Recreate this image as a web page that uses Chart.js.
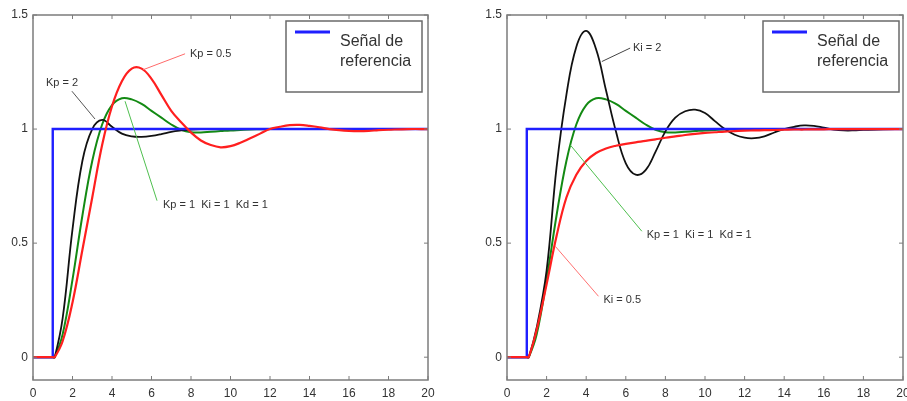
<!DOCTYPE html>
<html lang="es">
<head>
  <meta charset="UTF-8" />
  <title>Respuesta al escalón PID</title>
  <script src="https://cdn.jsdelivr.net/npm/chart.js"></script>
  <style>
    body {
      margin: 0;
      background: #fff;
    }

    #wrap {
      position: relative;
      width: 907px;
      height: 401px;
      overflow: hidden;
    }

    canvas {
      position: absolute;
      top: 0;
    }

    #leftChart { left: 0; }
    #rightChart { left: 453px; }
  </style>
</head>
<body>

<div id="wrap">
  <canvas id="leftChart" width="453" height="401"></canvas>
  <canvas id="rightChart" width="454" height="401"></canvas>
</div>

<script>
  // time samples shared by all the responses
  const tValues = [0, 0.5, 1, 1.1, 1.5, 2, 2.5, 3, 3.5, 4, 4.5, 5, 5.5, 6, 6.5, 7, 7.5, 8, 8.5, 9,
                   9.5, 10, 10.5, 11, 11.5, 12, 12.5, 13, 13.5, 14, 14.5, 15, 15.5, 16, 16.5, 17, 17.5, 18, 19, 20];

  // reference step
  const refT = [0, 1, 1, 20];
  const refY = [0, 0, 1, 1];

  // Kp = 1 Ki = 1 Kd = 1 (both plots)
  const pid111 = [0, 0, 0, 0, 0.1, 0.34, 0.62, 0.86, 1.02, 1.105, 1.135, 1.13, 1.11, 1.08, 1.05, 1.02, 0.997, 0.986, 0.985, 0.988,
                  0.991, 0.994, 0.996, 0.998, 0.999, 1, 1, 1, 1, 1, 1, 1, 1, 1, 1, 1, 1, 1, 1, 1];

  // left plot
  const kp05 = [0, 0, 0, 0, 0.07, 0.24, 0.47, 0.70, 0.93, 1.10, 1.21, 1.265, 1.265, 1.22, 1.15, 1.08, 1.03, 0.985, 0.95, 0.93,
                0.92, 0.925, 0.94, 0.96, 0.98, 1.0, 1.01, 1.017, 1.018, 1.014, 1.008, 1.0, 0.995, 0.992, 0.991, 0.992, 0.995, 0.997, 1.0, 1.0];
  const kp2 = [0, 0, 0, 0, 0.17, 0.56, 0.86, 1.0, 1.04, 1.01, 0.98, 0.968, 0.966, 0.97, 0.978, 0.988, 0.994, 0.998, 1.0, 1,
               1, 1, 1, 1, 1, 1, 1, 1, 1, 1, 1, 1, 1, 1, 1, 1, 1, 1, 1, 1];

  // right plot
  const ki2 = [0, 0, 0, 0, 0.13, 0.38, 0.83, 1.15, 1.36, 1.43, 1.35, 1.17, 0.99, 0.85, 0.80, 0.82, 0.90, 0.99, 1.05, 1.078,
               1.085, 1.07, 1.035, 1.0, 0.975, 0.962, 0.96, 0.968, 0.985, 1.0, 1.01, 1.016, 1.014, 1.006, 0.998, 0.994, 0.994, 0.996, 0.999, 1.0];
  const ki05 = [0, 0, 0, 0, 0.12, 0.32, 0.53, 0.70, 0.80, 0.86, 0.895, 0.915, 0.927, 0.935, 0.942, 0.948, 0.955, 0.962, 0.968, 0.974,
                0.979, 0.983, 0.986, 0.989, 0.991, 0.993, 0.994, 0.995, 0.996, 0.997, 0.998, 0.998, 0.999, 0.999, 1, 1, 1, 1, 1, 1];

  const xTicks = [0, 2, 4, 6, 8, 10, 12, 14, 16, 18, 20];
  const yTicks = [0, 0.5, 1, 1.5];
  const yTickLabels = ["0", "0.5", "1", "1.5"];
  const legendLines = ["Señal de", "referencia"];

  const BLUE = "#1f1fff";
  const RED = "#ff1f1f";
  const GREEN = "#138a13";
  const BLACK = "#111";

  // labels with pointer lines, in data units
  const leftNotes = [
    { text: "Kp = 0.5", x: 7.95, y: 1.33, from: [7.7, 1.33], to: [5.57, 1.26], color: "#ff6a6a" },
    { text: "Kp = 2", x: 0.66, y: 1.2, from: [1.97, 1.166], to: [3.14, 1.044], color: "#555" },
    { text: "Kp = 1  Ki = 1  Kd = 1", x: 6.58, y: 0.668, from: [6.28, 0.686], to: [4.66, 1.122], color: "#4fbf4f" }
  ];
  const rightNotes = [
    { text: "Ki = 2", x: 6.36, y: 1.354, from: [6.22, 1.355], to: [4.79, 1.296], color: "#444" },
    { text: "Kp = 1  Ki = 1  Kd = 1", x: 7.06, y: 0.537, from: [6.81, 0.552], to: [3.19, 0.931], color: "#4fbf4f" },
    { text: "Ki = 0.5", x: 4.87, y: 0.253, from: [4.62, 0.267], to: [2.44, 0.486], color: "#ff7070" }
  ];

  function toPoints(xs, ys) {
    return xs.map((x, i) => ({ x: x, y: ys[i] }));
  }

  // frame, inward ticks, legend box and notes (matlab look)
  const matlabPlugin = {
    id: "matlabLook",
    afterDraw(chart, args, opts) {
      const ctx = chart.ctx;
      const a = chart.chartArea;
      const xs = chart.scales.x;
      const ys = chart.scales.y;

      ctx.save();
      ctx.strokeStyle = "#7c7c7c";
      ctx.lineWidth = 1.5;
      ctx.strokeRect(a.left, a.top, a.right - a.left, a.bottom - a.top);

      ctx.lineWidth = 1;
      ctx.beginPath();
      xTicks.forEach(v => {
        const px = xs.getPixelForValue(v);
        ctx.moveTo(px, a.bottom); ctx.lineTo(px, a.bottom - 4);
        ctx.moveTo(px, a.top); ctx.lineTo(px, a.top + 4);
      });
      yTicks.forEach(v => {
        const py = ys.getPixelForValue(v);
        ctx.moveTo(a.left, py); ctx.lineTo(a.left + 4, py);
        ctx.moveTo(a.right, py); ctx.lineTo(a.right - 4, py);
      });
      ctx.stroke();

      // notes
      ctx.font = "11px 'Liberation Sans', Arial, sans-serif";
      ctx.textBaseline = "middle";
      ctx.textAlign = "left";
      opts.notes.forEach(n => {
        ctx.strokeStyle = n.color;
        ctx.lineWidth = 1;
        ctx.beginPath();
        ctx.moveTo(xs.getPixelForValue(n.from[0]), ys.getPixelForValue(n.from[1]));
        ctx.lineTo(xs.getPixelForValue(n.to[0]), ys.getPixelForValue(n.to[1]));
        ctx.stroke();
        ctx.fillStyle = "#333";
        ctx.fillText(n.text, xs.getPixelForValue(n.x), ys.getPixelForValue(n.y));
      });

      // legend
      const w = 136, h = 71;
      const bx = a.right - opts.legendGap - w;
      const by = a.top + 6;
      ctx.fillStyle = "#fff";
      ctx.fillRect(bx, by, w, h);
      ctx.strokeStyle = "#6a6a6a";
      ctx.lineWidth = 1.5;
      ctx.strokeRect(bx, by, w, h);
      ctx.strokeStyle = BLUE;
      ctx.lineWidth = 3;
      ctx.beginPath();
      ctx.moveTo(bx + 9, by + 11);
      ctx.lineTo(bx + 44, by + 11);
      ctx.stroke();
      ctx.fillStyle = "#333";
      ctx.font = "16px 'Liberation Sans', Arial, sans-serif";
      legendLines.forEach((line, i) => {
        ctx.fillText(line, bx + 54, by + 21 + i * 20);
      });
      ctx.restore();
    }
  };

  function makeChart(id, series, notes, yWidth, rightPad, legendGap) {
    const datasets = series.map(s => ({
      data: toPoints(s.t, s.y),
      borderColor: s.color,
      borderWidth: s.width,
      pointRadius: 0,
      tension: s.tension,
      fill: false,
      order: s.order
    }));

    return new Chart(document.getElementById(id).getContext("2d"), {
      type: "line",
      data: { datasets: datasets },
      plugins: [matlabPlugin],
      options: {
        responsive: false,
        animation: false,
        layout: { padding: { top: 15, right: rightPad, left: 0, bottom: 0 } },
        plugins: {
          legend: { display: false },
          tooltip: { enabled: false },
          matlabLook: { notes: notes, legendGap: legendGap }
        },
        scales: {
          x: {
            type: "linear",
            min: 0,
            max: 20,
            grid: { display: false, drawTicks: false },
            border: { display: false },
            afterBuildTicks: scale => { scale.ticks = xTicks.map(v => ({ value: v })); },
            afterFit: scale => { scale.height = 21; scale.paddingLeft = 0; scale.paddingRight = 0; },
            ticks: {
              padding: 6,
              maxRotation: 0,
              autoSkip: false,
              color: "#333",
              font: { family: "'Liberation Sans', Arial, sans-serif", size: 12 }
            }
          },
          y: {
            min: -0.1,
            max: 1.5,
            grid: { display: false, drawTicks: false },
            border: { display: false },
            afterBuildTicks: scale => { scale.ticks = yTicks.map(v => ({ value: v })); },
            afterFit: scale => { scale.width = yWidth; scale.paddingTop = 0; scale.paddingBottom = 0; },
            ticks: {
              padding: 5,
              color: "#333",
              font: { family: "'Liberation Sans', Arial, sans-serif", size: 12 },
              callback: (value, i) => yTickLabels[i]
            }
          }
        }
      }
    });
  }

  makeChart("leftChart", [
    { t: tValues, y: kp05, color: RED, width: 2.2, tension: 0.4, order: 0 },
    { t: refT, y: refY, color: BLUE, width: 2.4, tension: 0, order: 1 },
    { t: tValues, y: kp2, color: BLACK, width: 1.8, tension: 0.4, order: 2 },
    { t: tValues, y: pid111, color: GREEN, width: 2, tension: 0.4, order: 3 }
  ], leftNotes, 33, 25, 6);

  makeChart("rightChart", [
    { t: tValues, y: ki05, color: RED, width: 2.2, tension: 0.4, order: 0 },
    { t: refT, y: refY, color: BLUE, width: 2.4, tension: 0, order: 1 },
    { t: tValues, y: ki2, color: BLACK, width: 1.8, tension: 0.4, order: 2 },
    { t: tValues, y: pid111, color: GREEN, width: 2, tension: 0.4, order: 3 }
  ], rightNotes, 54, 4, 4);
</script>

</body>
</html>
